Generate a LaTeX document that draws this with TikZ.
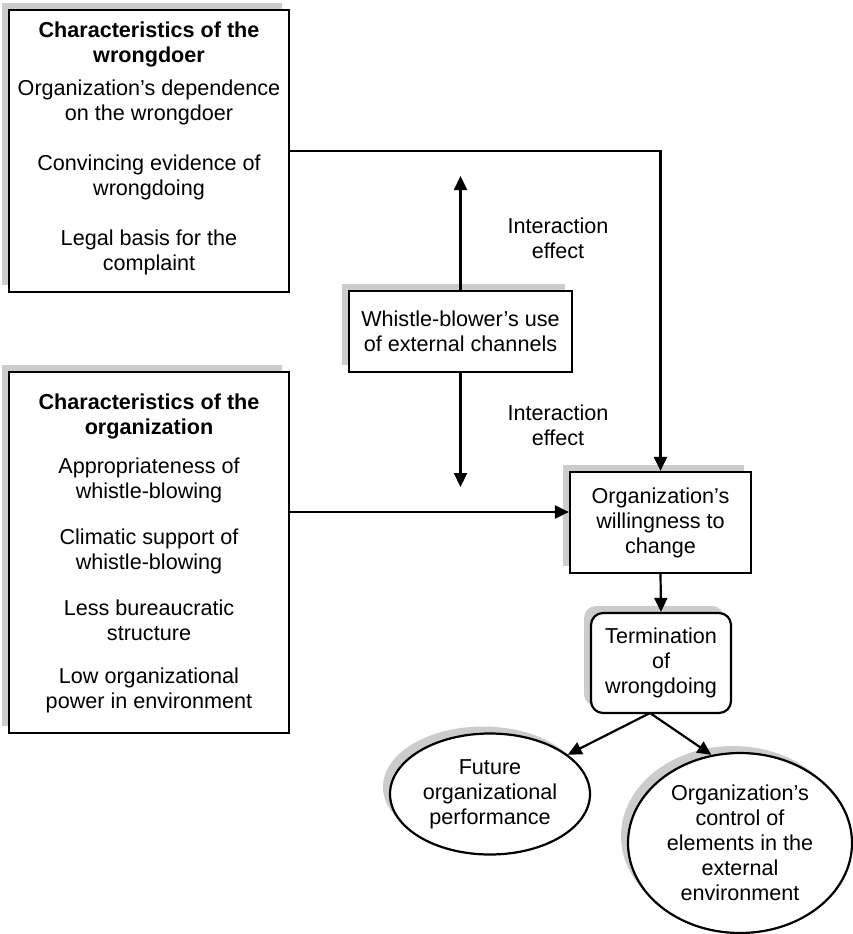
\documentclass[tikz,border=0pt]{standalone}
\usepackage{fontspec}
\setmainfont{Liberation Sans}
\usetikzlibrary{arrows.meta,shapes.geometric,shadows}
\definecolor{shadowgrey}{RGB}{204,204,204}
\begin{document}
\begin{tikzpicture}[x=1pt,y=-1pt,
  txt/.style={font=\fontsize{21.6}{25}\selectfont, align=center, inner sep=0pt},
  txtb/.style={font=\fontsize{21.6}{25}\selectfont\bfseries, align=center, inner sep=0pt},
  shadowed/.style={general shadow={shadow xshift=-7pt, shadow yshift=7pt, fill=shadowgrey}},
  bx/.style={draw, line width=2.2pt, fill=white, shadowed, inner sep=0pt,
             font=\fontsize{21.6}{25}\selectfont, align=center},
  arr/.style={line width=2.2pt, -{Triangle[length=14pt,width=13pt]}}]
\useasboundingbox (0,0) rectangle (853,934);

% left boxes
\node[bx, minimum width=280pt, minimum height=282pt] (wd) at (149,151) {};
\node[txtb] (wdh) at (149,44) {Characteristics of the\\wrongdoer};
\node[txt] (wd1) at (149,102) {Organization’s dependence\\on the wrongdoer};
\node[txt] (wd2) at (149,177) {Convincing evidence of\\wrongdoing};
\node[txt] (wd3) at (149,252) {Legal basis for the\\complaint};

\node[bx, minimum width=280pt, minimum height=361pt] (org) at (149,552.5) {};
\node[txtb] (orh) at (149,416) {Characteristics of the\\organization};
\node[txt] (or1) at (149,480.5) {Appropriateness of\\whistle-blowing};
\node[txt] (or2) at (149,551) {Climatic support of\\whistle-blowing};
\node[txt] (or3) at (149,620.5) {Less bureaucratic\\structure};
\node[txt] (or4) at (149,690.5) {Low organizational\\power in environment};

% middle
\node[bx, minimum width=223pt, minimum height=81pt] (wb) at (460.5,331.5)
  {Whistle-blower’s use\\of external channels};
\node[txt] (ie1) at (558,238) {Interaction\\effect};
\node[txt] (ie2) at (558,425) {Interaction\\effect};

% right column
\node[bx, minimum width=181pt, minimum height=101pt] (will) at (660.5,522.5)
  {Organization’s\\willingness to\\change};
\node[bx, rounded corners=12pt, minimum width=140pt, minimum height=100pt] (term) at (661,663)
  {Termination\\of\\wrongdoing};
\node[bx, ellipse, minimum width=200pt, minimum height=121pt] (fut) at (490,794)
  {Future\\organizational\\performance};
\node[bx, ellipse, minimum width=224pt, minimum height=180pt] (ctl) at (740,843)
  {Organization’s\\control of\\elements in the\\external\\environment};

% connectors
\coordinate (upt) at (460.5,176);
\coordinate (dnt) at (460.5,487);
\coordinate (h2) at (289,512);
\coordinate (ts) at (650,713);
\draw[arr] (wb.north) -- (upt);
\draw[arr] (wb.south) -- (dnt);
\draw[arr] (wd.east) -| (will.north);
\draw[arr] (org.east |- h2) -- (will.west |- h2);
\draw[arr] (will.south) -- (term.north);
\draw[arr] (ts) -- (fut);
\draw[arr] (ts) -- (ctl.108);
\end{tikzpicture}
\end{document}
